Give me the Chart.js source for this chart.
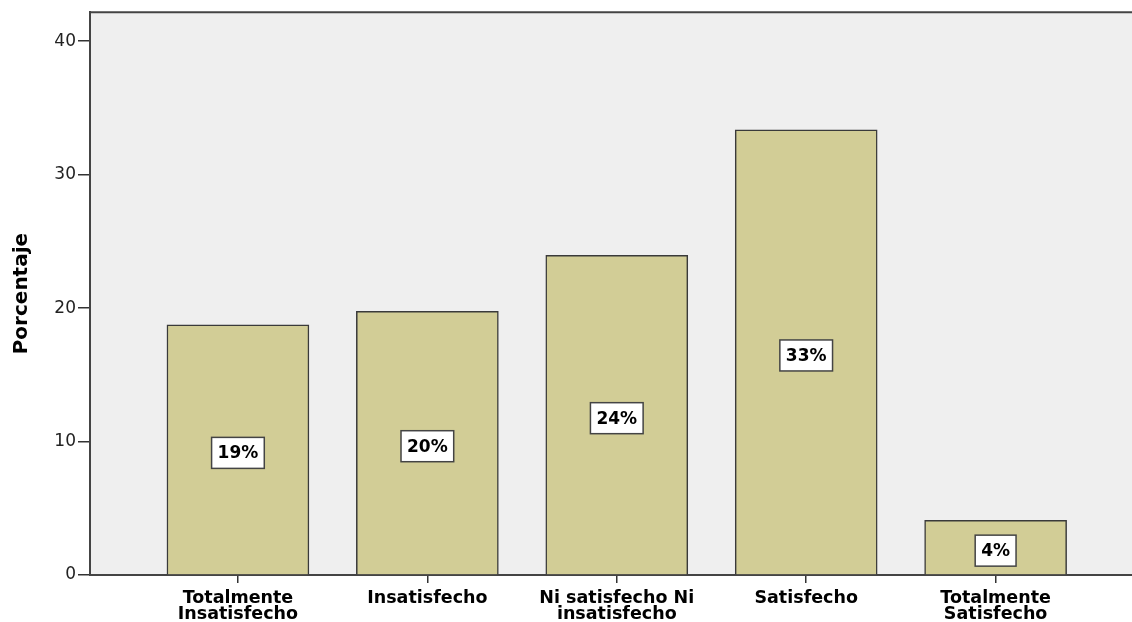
<!DOCTYPE html>
<html>
<head>
<meta charset="utf-8">
<script src="https://cdn.jsdelivr.net/npm/chart.js@4/dist/chart.umd.min.js"></script>
<style>
    body { margin: 0; background: #fff; }
    canvas { display: block; }
</style>
</head>
<body>
<canvas id="satChart" width="1132" height="622"></canvas>
<script>
// categories (two-line labels) and percentages
const categories = [
    ["Totalmente", "Insatisfecho"],
    ["Insatisfecho"],
    ["Ni satisfecho Ni", "insatisfecho"],
    ["Satisfecho"],
    ["Totalmente", "Satisfecho"]
];
const percentages = [18.75, 19.75, 23.95, 33.35, 4.1];
const yTicks = [0, 10, 20, 30, 40];

const FONT = "'DejaVu Sans', Verdana, sans-serif";

// background of the plot area + top border line
const plotBackground = {
    id: "plotBackground",
    beforeDraw(chart) {
        const {ctx, chartArea} = chart;
        ctx.save();
        ctx.fillStyle = "#efefef";
        ctx.fillRect(chartArea.left, chartArea.top, chartArea.right - chartArea.left, chartArea.bottom - chartArea.top);
        ctx.restore();
    },
    afterDraw(chart) {
        const {ctx, chartArea} = chart;
        ctx.save();
        ctx.strokeStyle = "#444";
        ctx.lineWidth = 2;
        ctx.beginPath();
        ctx.moveTo(chartArea.left, chartArea.top);
        ctx.lineTo(chartArea.right, chartArea.top);
        ctx.stroke();
        ctx.restore();
    }
};

// white boxed percentage labels in the middle of each bar
const boxLabels = {
    id: "boxLabels",
    afterDatasetsDraw(chart) {
        const {ctx} = chart;
        const yScale = chart.scales.y;
        const meta = chart.getDatasetMeta(0);
        ctx.save();
        ctx.font = "bold 17px " + FONT;
        ctx.textAlign = "center";
        ctx.textBaseline = "middle";
        meta.data.forEach((bar, i) => {
            const v = percentages[i];
            const text = Math.round(v) + "%";
            const cy = yScale.getPixelForValue(v / 2) + 3;
            const w = ctx.measureText(text).width + 12;
            const h = 31;
            ctx.fillStyle = "#ffffff";
            ctx.fillRect(bar.x - w / 2, cy - h / 2, w, h);
            ctx.strokeStyle = "#444";
            ctx.lineWidth = 1.5;
            ctx.strokeRect(bar.x - w / 2, cy - h / 2, w, h);
            ctx.fillStyle = "#000";
            ctx.fillText(text, bar.x, cy + 1);
        });
        ctx.restore();
    }
};

const ctx = document.getElementById("satChart").getContext("2d");
new Chart(ctx, {
    type: "bar",
    data: {
        datasets: [{
            label: "Porcentaje",
            data: percentages.map((v, i) => ({x: i, y: v})),
            backgroundColor: "#d2cd96",
            borderColor: "#3a3a3a",
            borderWidth: 1.5,
            barThickness: 142
        }]
    },
    options: {
        responsive: false,
        animation: false,
        devicePixelRatio: 1,
        layout: {padding: {top: 11, right: 0, left: 0, bottom: 0}},
        plugins: {
            legend: {display: false},
            tooltip: {enabled: false}
        },
        scales: {
            x: {
                type: "linear",
                min: -0.781,
                max: 4.72,
                offset: false,
                afterBuildTicks(scale) {
                    scale.ticks = categories.map((c, i) => ({value: i}));
                },
                afterFit(scale) { scale.height = 47; },
                ticks: {
                    autoSkip: false,
                    maxRotation: 0,
                    minRotation: 0,
                    padding: 7,
                    color: "#000",
                    font: {family: FONT, size: 17.5, weight: "bold", lineHeight: 0.95},
                    callback: (value) => categories[value] || ""
                },
                grid: {
                    offset: false,
                    drawOnChartArea: false,
                    drawTicks: true,
                    tickLength: 8,
                    color: "#333",
                    lineWidth: 1.5
                },
                border: {color: "#444", width: 2}
            },
            y: {
                min: 0,
                max: 42.17,
                afterBuildTicks(scale) {
                    scale.ticks = yTicks.map(v => ({value: v}));
                },
                afterFit(scale) { scale.width = 90; },
                title: {
                    display: true,
                    text: "Porcentaje",
                    color: "#000",
                    font: {family: FONT, size: 20, weight: "bold"},
                    padding: {top: 10, bottom: 0}
                },
                ticks: {
                    color: "#222",
                    padding: 2,
                    font: {family: FONT, size: 17}
                },
                grid: {
                    drawOnChartArea: false,
                    drawTicks: true,
                    tickLength: 12,
                    color: "#333",
                    lineWidth: 1.5
                },
                border: {color: "#444", width: 2}
            }
        }
    },
    plugins: [plotBackground, boxLabels]
});
</script>
</body>
</html>
